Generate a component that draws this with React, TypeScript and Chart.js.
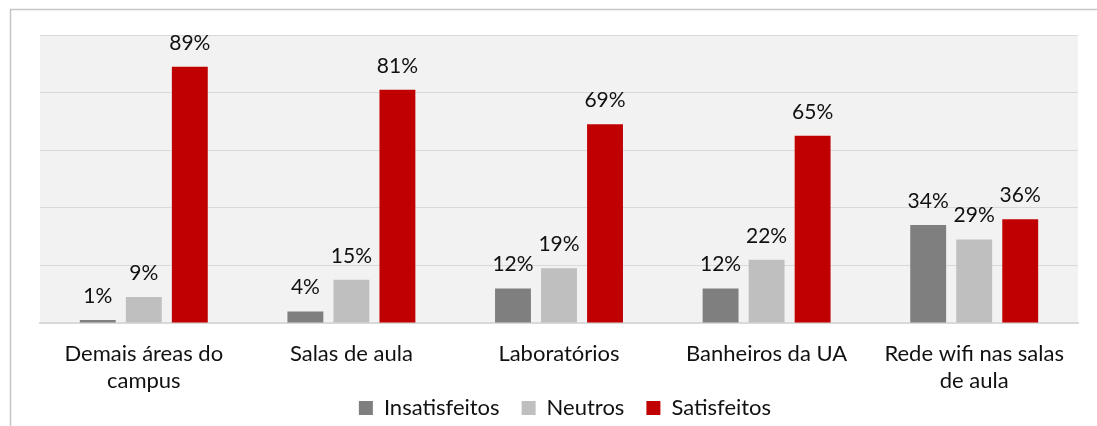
import React, { useEffect, useRef } from "react";
import { Chart, registerables } from "chart.js";

Chart.register(...registerables);

const categories: (string | string[])[] = [
  ["Demais áreas do", "campus"],
  "Salas de aula",
  "Laboratórios",
  "Banheiros da UA",
  ["Rede wifi nas salas", "de aula"],
];
const insatisfeitos = [1, 4, 12, 12, 34];
const neutros = [9, 15, 19, 22, 29];
const satisfeitos = [89, 81, 69, 65, 36];
const seriesNames = ["Insatisfeitos", "Neutros", "Satisfeitos"];
const seriesColors = ["#7f7f7f", "#bfbfbf", "#c00000"];

const FONT = "Lato, 'Open Sans', sans-serif";

const framePlugin = {
  id: "frame",
  afterLayout(chart: any) {
    const lg = chart.legend;
    if (lg) {
      lg.top -= 22;
      lg.bottom -= 22;
      lg.left += 6;
      lg.right += 6;
    }
  },
  beforeDraw(chart: any) {
    const { ctx, chartArea } = chart;
    ctx.save();
    ctx.fillStyle = "#f2f2f2";
    ctx.fillRect(chartArea.left, chartArea.top, chartArea.right - chartArea.left, chartArea.bottom - chartArea.top);
    ctx.strokeStyle = "#c6c6c6";
    ctx.lineWidth = 1.5;
    ctx.beginPath();
    ctx.moveTo(10.5, 426);
    ctx.lineTo(10.5, 9.5);
    ctx.lineTo(1097, 9.5);
    ctx.stroke();
    ctx.restore();
  },
};

const labelPlugin = {
  id: "valueLabels",
  afterDatasetsDraw(chart: any) {
    const { ctx } = chart;
    ctx.save();
    ctx.font = `21px ${FONT}`;
    ctx.fillStyle = "#111";
    ctx.textAlign = "center";
    ctx.textBaseline = "alphabetic";
    chart.data.datasets.forEach((ds: any, i: number) => {
      const meta = chart.getDatasetMeta(i);
      meta.data.forEach((el: any, j: number) => {
        ctx.fillText(ds.data[j] + "%", el.x, el.y - 17);
      });
    });
    ctx.restore();
  },
};

export default function App() {
  const ref = useRef<HTMLCanvasElement>(null);
  useEffect(() => {
    if (!ref.current) return;
    const chart = new Chart(ref.current, {
      type: "bar",
      data: {
        labels: categories,
        datasets: [insatisfeitos, neutros, satisfeitos].map((d, i) => ({
          label: seriesNames[i],
          data: d,
          backgroundColor: seriesColors[i],
          categoryPercentage: 0.665,
          barPercentage: 0.78,
        })),
      },
      options: {
        animation: false,
        responsive: false,
        layout: { padding: { left: 40, right: 19, top: 35, bottom: -25 } },
        scales: {
          x: {
            grid: { display: false, drawTicks: false },
            border: { color: "#d9d9d9", width: 2 },
            ticks: {
              color: "#111",
              font: { family: FONT, size: 22, lineHeight: 27 / 22 },
              padding: 17,
              maxRotation: 0,
              autoSkip: false,
            },
            afterFit(scale: any) {
              scale.height = 74;
            },
          },
          y: {
            min: 0,
            max: 100,
            display: true,
            ticks: { display: false, stepSize: 20 },
            grid: { color: "#d9d9d9", drawTicks: false },
            border: { display: false },
            afterFit(scale: any) {
              scale.width = 0;
            },
          },
        },
        plugins: {
          legend: {
            position: "bottom",
            labels: {
              boxWidth: 14,
              boxHeight: 14,
              padding: 22,
              color: "#111",
              font: { family: FONT, size: 22 },
            },
          },
          tooltip: { enabled: false },
          title: { display: false },
        },
      },
      plugins: [framePlugin, labelPlugin],
    });
    return () => chart.destroy();
  }, []);
  return (
    <div style={{ position: "fixed", left: 0, top: 0, width: 1097, height: 426, background: "#fff" }}>
      <canvas ref={ref} width={1097} height={426} />
    </div>
  );
}
